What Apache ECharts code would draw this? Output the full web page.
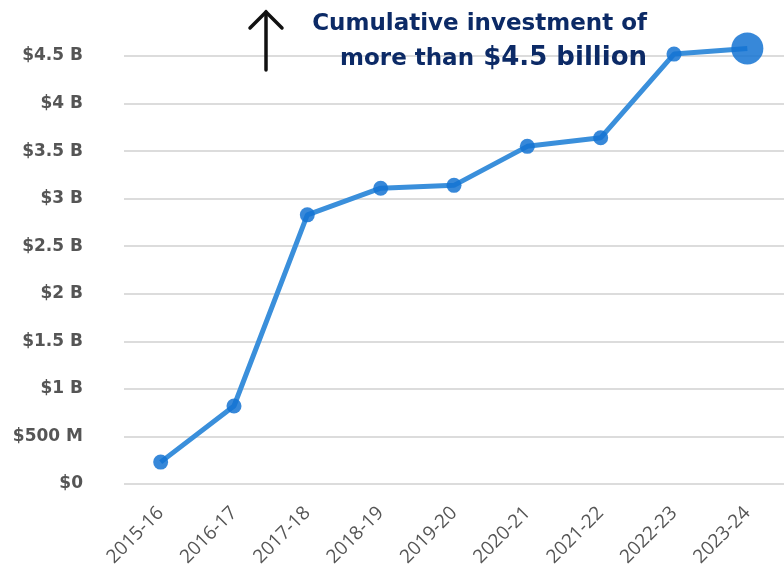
<!DOCTYPE html>
<html><head><meta charset="utf-8">
<script src="https://cdn.jsdelivr.net/npm/echarts@6/dist/echarts.min.js"></script>
<style>html,body{margin:0;padding:0;background:#fff}#c{width:784px;height:570px}</style>
</head><body><div id="c"></div>
<script>
const categories = ['2015-16','2016-17','2017-18','2018-19','2019-20','2020-21','2021-22','2022-23','2023-24'];
const values = [0.23, 0.82, 2.83, 3.11, 3.14, 3.55, 3.64, 4.52, 4.58];
const yTicks = [0, 0.5, 1, 1.5, 2, 2.5, 3, 3.5, 4, 4.5];
const yLabels = ['$0','$500 M','$1 B','$1.5 B','$2 B','$2.5 B','$3 B','$3.5 B','$4 B','$4.5 B'];

const chart = echarts.init(document.getElementById('c'));
const last = values.length - 1;
const navy = '#0c2a66';
chart.setOption({
  animation: false,
  grid: {left: 124, right: -5, top: 56, bottom: 86},
  xAxis: {
    type: 'category', data: categories, boundaryGap: true,
    axisLine: {show: false}, axisTick: {show: false},
    axisLabel: {rotate: 45, color: '#555', fontSize: 19, fontFamily: 'Open Sans', margin: 26}
  },
  yAxis: {
    type: 'value', min: 0, max: 4.5, interval: 0.5,
    axisLine: {show: false}, axisTick: {show: false},
    splitLine: {lineStyle: {color: '#dcdcdc', width: 2}},
    axisLabel: {
      color: '#555', fontSize: 17, fontWeight: 'bold', fontFamily: 'DejaVu Sans', margin: 41,
      formatter: v => { const i = yTicks.findIndex(t => Math.abs(t - v) < 1e-9); return i >= 0 ? yLabels[i] : ''; }
    }
  },
  series: [{
    type: 'line', data: values.map((v, i) => i === last ? {value: v, symbolSize: 32} : v),
    symbol: 'circle', symbolSize: 15, clip: false,
    lineStyle: {color: '#3a8fdb', width: 5},
    itemStyle: {color: 'rgba(20,115,210,0.85)', borderWidth: 0},
    z: 3
  }],
  graphic: [
    {type: 'line', z: 100, shape: {x1: 266, y1: 12, x2: 266, y2: 70}, style: {stroke: '#111', lineWidth: 3.5, lineCap: 'round'}},
    {type: 'polyline', z: 100, shape: {points: [[250, 28], [266, 12], [282, 28]]}, style: {stroke: '#111', lineWidth: 3.5, fill: null, lineCap: 'round', lineJoin: 'miter'}},
    {type: 'text', z: 100, style: {x: 647, y: 24, text: 'Cumulative investment of', fill: navy, font: 'bold 23px "DejaVu Sans"', textAlign: 'right', textVerticalAlign: 'middle'}},
    {type: 'text', z: 100, style: {x: 474, y: 59, text: 'more than', fill: navy, font: 'bold 23px "DejaVu Sans"', textAlign: 'right', textVerticalAlign: 'middle'}},
    {type: 'text', z: 100, style: {x: 647, y: 58, text: '$4.5 billion', fill: navy, font: 'bold 26px "DejaVu Sans"', textAlign: 'right', textVerticalAlign: 'middle'}}
  ]
});
</script></body></html>
